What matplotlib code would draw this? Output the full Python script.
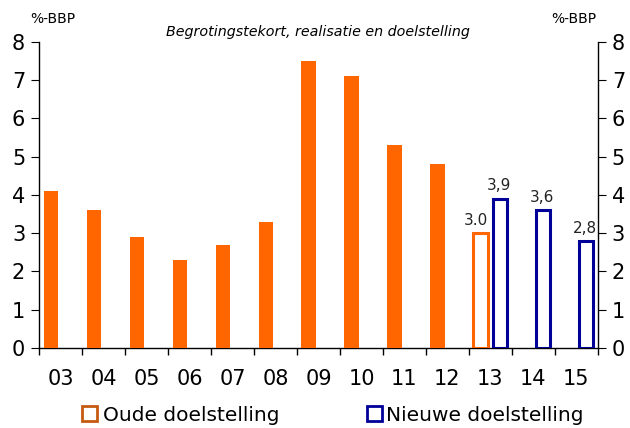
import numpy as np
import matplotlib
matplotlib.use("Agg")
import matplotlib.pyplot as plt
from matplotlib.patches import Patch

# Data
jaren = ['03', '04', '05', '06', '07', '08', '09', '10', '11', '12', '13', '14', '15']
realisatie = [4.1, 3.6, 2.9, 2.3, 2.7, 3.3, 7.5, 7.1, 5.3, 4.8]
oude_doel = {'13': 3.0}
nieuwe_doel = {'13': 3.9, '14': 3.6, '15': 2.8}
oude_labels = {'13': '3.0'}
nieuwe_labels = {'13': '3,9', '14': '3,6', '15': '2,8'}

oranje = '#FF6600'
blauw = '#000099'

fig = plt.figure(figsize=(6.3, 4.28), dpi=100)
ax = fig.add_axes([0.062, 0.187, 0.887, 0.715])

x = np.arange(len(jaren))
w = 0.33
off = 0.23

# Realisatie (gevuld)
ax.bar(x[:len(realisatie)] - off, realisatie, width=w, color=oranje, zorder=3)

# Oude doelstelling (open oranje)
for jaar, val in oude_doel.items():
    i = jaren.index(jaar)
    ax.bar(i - off, val, width=w, facecolor='white', edgecolor=oranje, linewidth=2.2, zorder=3)
    ax.text(i - off - 0.1, val + 0.14, oude_labels[jaar], ha='center', va='bottom', fontsize=11, color='#222222')

# Nieuwe doelstelling (open blauw)
for jaar, val in nieuwe_doel.items():
    i = jaren.index(jaar)
    ax.bar(i + off, val, width=w, facecolor='white', edgecolor=blauw, linewidth=2.2, zorder=3)
    ax.text(i + off - 0.03, val + 0.14, nieuwe_labels[jaar], ha='center', va='bottom', fontsize=11, color='#222222')

ax.set_xlim(-0.5, len(jaren) - 0.5)
ax.set_ylim(0, 8)

# x-as: ticks op de grenzen, labels in het midden
ax.set_xticks(np.arange(len(jaren) + 1) - 0.5)
ax.set_xticklabels([])
ax.set_xticks(x, minor=True)
ax.set_xticklabels(jaren, minor=True, fontsize=15)
ax.tick_params(axis='x', which='major', direction='out', length=5, width=1)
ax.tick_params(axis='x', which='minor', length=0, pad=15)

ax.set_yticks(range(0, 9))
ax.tick_params(axis='y', direction='out', length=6, labelsize=15, left=True, right=True,
               labelleft=True, labelright=True, pad=4)

ax.spines['top'].set_visible(False)
for s in ['left', 'right', 'bottom']:
    ax.spines[s].set_linewidth(1)

# Teksten
fig.text(0.048, 0.955, '%-BBP', fontsize=10, ha='left', va='center')
fig.text(0.875, 0.955, '%-BBP', fontsize=10, ha='left', va='center')
fig.text(0.505, 0.925, 'Begrotingstekort, realisatie en doelstelling', fontsize=10.3,
         style='italic', ha='center', va='center')

# Legenda
h1 = Patch(facecolor='white', edgecolor='#C55A11', linewidth=2)
h2 = Patch(facecolor='white', edgecolor=blauw, linewidth=2)
fig.legend([h1], ['Oude doelstelling'], loc='center left', bbox_to_anchor=(0.13, 0.03),
           frameon=False, fontsize=14.5, handlelength=0.75, handleheight=0.8, handletextpad=0.3,
           borderpad=0, borderaxespad=0)
fig.legend([h2], ['Nieuwe doelstelling'], loc='center left', bbox_to_anchor=(0.583, 0.03),
           frameon=False, fontsize=14.5, handlelength=0.75, handleheight=0.8, handletextpad=0.2,
           borderpad=0, borderaxespad=0)

fig.savefig('out.png', dpi=100)
